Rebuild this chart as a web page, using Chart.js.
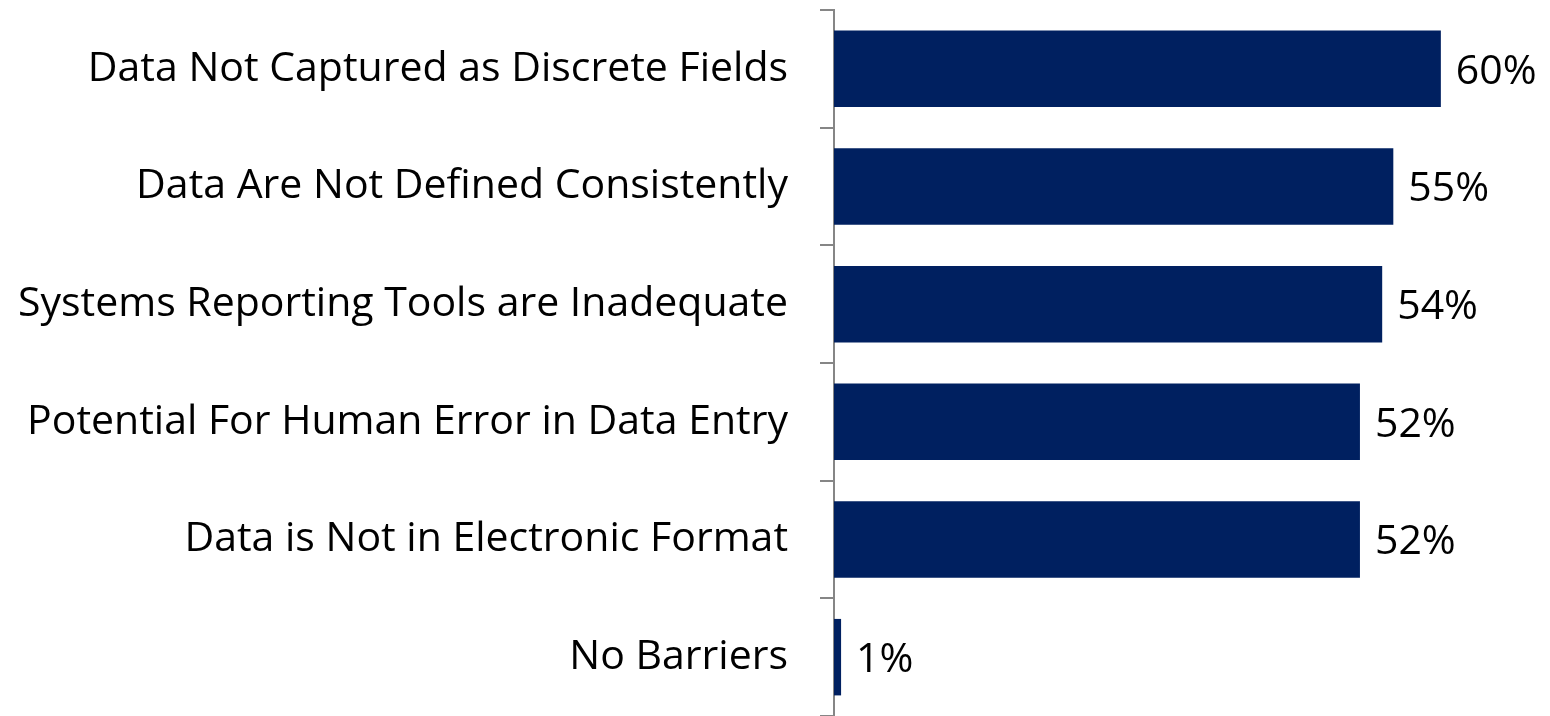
<!DOCTYPE html>
<html lang="en">
<head>
<meta charset="utf-8"/>
<title>Barriers</title>
<style>
  body, html { margin: 0; padding: 0; background: #fff; }
  #wrap { width: 1550px; height: 716px; }
</style>
</head>
<body>
<div id="wrap"><canvas id="chart" width="1550" height="716"></canvas></div>
<script src="https://cdn.jsdelivr.net/npm/chart.js"></script>
<script>
  const categories = [
    'Data Not Captured as Discrete Fields',
    'Data Are Not Defined Consistently',
    'Systems Reporting Tools are Inadequate',
    'Potential For Human Error in Data Entry',
    'Data is Not in Electronic Format',
    'No Barriers'
  ];
  // bar lengths (labels are rounded)
  const values = [60, 55.3, 54.2, 52, 52, 0.7];
  const valueLabels = ['60%', '55%', '54%', '52%', '52%', '1%'];

  const FONT = "'Open Sans', sans-serif";

  // draws the % labels after the bar ends
  const barLabels = {
    id: 'barLabels',
    afterDatasetsDraw(chart) {
      const ctx = chart.ctx;
      const meta = chart.getDatasetMeta(0);
      ctx.save();
      ctx.font = '41px ' + FONT;
      ctx.fillStyle = '#000';
      ctx.textBaseline = 'middle';
      ctx.textAlign = 'left';
      meta.data.forEach((bar, i) => {
        ctx.fillText(valueLabels[i], bar.x + 15, bar.y + 3);
      });
      ctx.restore();
    }
  };

  new Chart(document.getElementById('chart').getContext('2d'), {
    type: 'bar',
    data: {
      labels: categories,
      datasets: [{
        data: values,
        backgroundColor: '#002060',
        categoryPercentage: 0.65,
        barPercentage: 1
      }]
    },
    options: {
      indexAxis: 'y',
      responsive: false,
      animation: false,
      layout: { padding: { top: 10, right: 8, bottom: 0, left: 0 } },
      plugins: { legend: { display: false }, tooltip: { enabled: false } },
      scales: {
        x: { display: false, min: 0, max: 70 },
        y: {
          afterFit(scale) {
            scale.width = 834;
            scale.paddingTop = 0;
            scale.paddingBottom = 0;
          },
          border: { color: '#868686', width: 2 },
          grid: {
            offset: true,
            drawOnChartArea: false,
            tickLength: 14,
            color: '#868686',
            lineWidth: 2
          },
          ticks: {
            color: '#000',
            padding: 32,
            font: { family: FONT, size: 41 }
          }
        }
      }
    },
    plugins: [barLabels]
  });
</script>
</body>
</html>
